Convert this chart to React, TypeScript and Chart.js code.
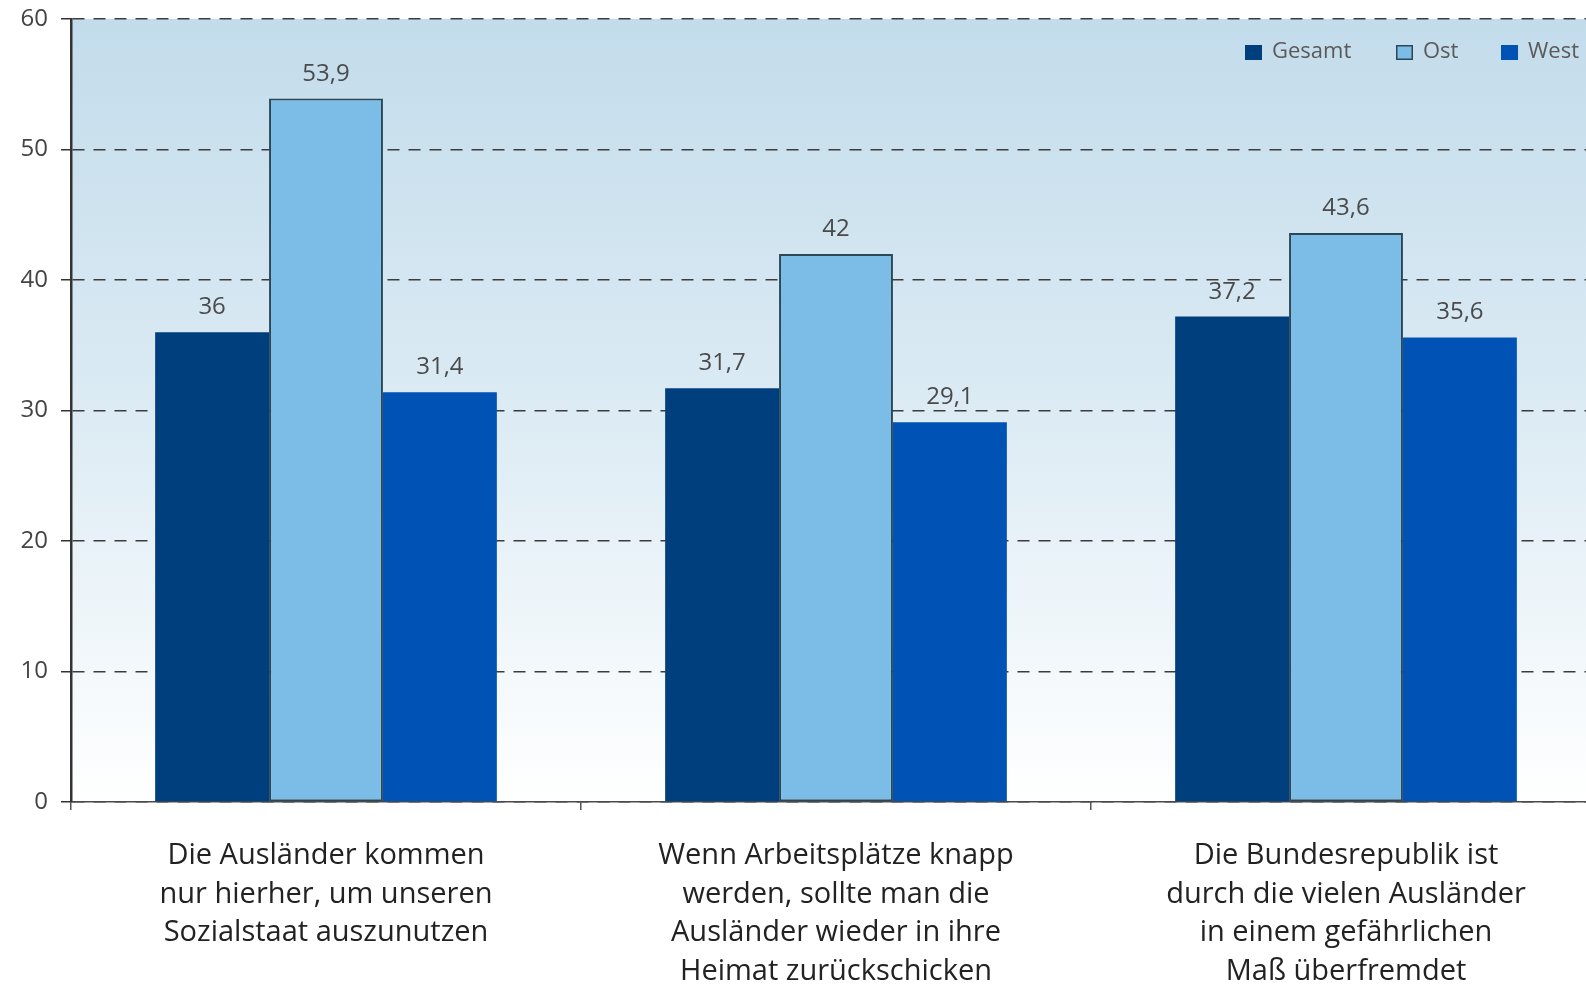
import React, { useEffect, useRef } from "react";
import { Chart, registerables } from "chart.js";

Chart.register(...registerables);

const categories: string[][] = [
  ["Die Ausländer kommen", "nur hierher, um unseren", "Sozialstaat auszunutzen"],
  ["Wenn Arbeitsplätze knapp", "werden, sollte man die", "Ausländer wieder in ihre", "Heimat zurückschicken"],
  ["Die Bundesrepublik ist", "durch die vielen Ausländer", "in einem gefährlichen", "Maß überfremdet"],
];
const seriesNames = ["Gesamt", "Ost", "West"];
const gesamt = [36, 31.7, 37.2];
const ost = [53.9, 42, 43.6];
const west = [31.4, 29.1, 35.6];
const yTicks = [0, 10, 20, 30, 40, 50, 60];

const FONT = "'Open Sans', 'DejaVu Sans', sans-serif";

const fmt = (v: number) => String(v).replace(".", ",");

const bgPlugin = {
  id: "bgGradient",
  beforeDraw(chart: any) {
    const { ctx, chartArea } = chart;
    if (!chartArea) return;
    const g = ctx.createLinearGradient(0, chartArea.top, 0, chartArea.bottom);
    g.addColorStop(0, "#c3dceb");
    g.addColorStop(0.5, "#dcebf4");
    g.addColorStop(1, "#ffffff");
    ctx.save();
    ctx.fillStyle = g;
    ctx.fillRect(chartArea.left, chartArea.top, chartArea.right - chartArea.left, chartArea.bottom - chartArea.top);
    ctx.restore();
  },
};

const labelPlugin = {
  id: "valueLabels",
  afterDatasetsDraw(chart: any) {
    const { ctx } = chart;
    ctx.save();
    ctx.font = `24px ${FONT}`;
    ctx.fillStyle = "#4a4a4a";
    ctx.textAlign = "center";
    ctx.textBaseline = "alphabetic";
    chart.data.datasets.forEach((ds: any, di: number) => {
      const meta = chart.getDatasetMeta(di);
      meta.data.forEach((bar: any, i: number) => {
        ctx.fillText(fmt(ds.data[i]), bar.x, bar.y - 18);
      });
    });
    ctx.restore();
  },
};

const legendPlugin = {
  id: "customLegend",
  afterDraw(chart: any) {
    const { ctx } = chart;
    const boxX = [1245, 1396, 1501];
    const y = 45;
    ctx.save();
    ctx.font = `22px ${FONT}`;
    ctx.textBaseline = "middle";
    ctx.textAlign = "left";
    chart.data.datasets.forEach((ds: any, i: number) => {
      const x = boxX[i];
      ctx.fillStyle = ds.backgroundColor;
      ctx.fillRect(x, y, 17, 15);
      ctx.strokeStyle = i === 1 ? "#2d4656" : ds.backgroundColor;
      ctx.lineWidth = 1.5;
      ctx.strokeRect(x + 0.75, y + 0.75, 15.5, 13.5);
      ctx.fillStyle = "#5a5a5a";
      ctx.fillText(ds.label, x + 27, y + 7);
    });
    ctx.restore();
  },
};

export default function App() {
  const ref = useRef<HTMLCanvasElement>(null);
  useEffect(() => {
    document.body.style.margin = "0";
    document.body.style.overflow = "hidden";
    const chart = new Chart(ref.current!, {
      type: "bar",
      data: {
        labels: categories,
        datasets: [
          { label: seriesNames[0], data: gesamt, backgroundColor: "#003f7e", borderWidth: 0 },
          { label: seriesNames[1], data: ost, backgroundColor: "#7bbde6", borderColor: "#2d4656", borderWidth: 2, borderSkipped: false },
          { label: seriesNames[2], data: west, backgroundColor: "#0052b4", borderWidth: 0 },
        ],
      },
      options: {
        animation: false,
        responsive: false,
        maintainAspectRatio: false,
        layout: { padding: { top: 19, right: 0, left: 0, bottom: 0 } },
        datasets: { bar: { categoryPercentage: 0.67, barPercentage: 1.0 } },
        plugins: { legend: { display: false }, tooltip: { enabled: false } },
        scales: {
          x: {
            offset: true,
            grid: { display: true, drawOnChartArea: false, drawTicks: true, offset: true, tickLength: 8, color: "#555", lineWidth: 1.5 },
            border: { display: true, color: "#4a4a4a", width: 1.5 },
            ticks: { font: { family: FONT, size: 29, lineHeight: 1.34 }, color: "#222", padding: 26, maxRotation: 0, autoSkip: false },
            afterFit: (s: any) => { s.height = 184; s.paddingLeft = 0; s.paddingRight = 0; },
          },
          y: {
            min: 0,
            max: 60,
            afterBuildTicks: (s: any) => { s.ticks = yTicks.map((v) => ({ value: v })); },
            grid: { color: "#3c3c3c", lineWidth: 1.5, tickBorderDash: [], tickLength: 10, tickColor: "#333", drawTicks: true },
            border: { display: true, color: "#333", width: 2.5, dash: [12, 9] },
            ticks: { font: { family: FONT, size: 24 }, color: "#444", padding: 13 },
            afterFit: (s: any) => { s.width = 71; s.paddingTop = 0; s.paddingBottom = 0; },
          },
        },
      },
      plugins: [bgPlugin, labelPlugin, legendPlugin],
    });
    return () => chart.destroy();
  }, []);
  return (
    <div style={{ position: "fixed", left: 0, top: 0, width: 1601, height: 986 }}>
      <canvas ref={ref} width={1601} height={986} style={{ width: 1601, height: 986 }} />
    </div>
  );
}
